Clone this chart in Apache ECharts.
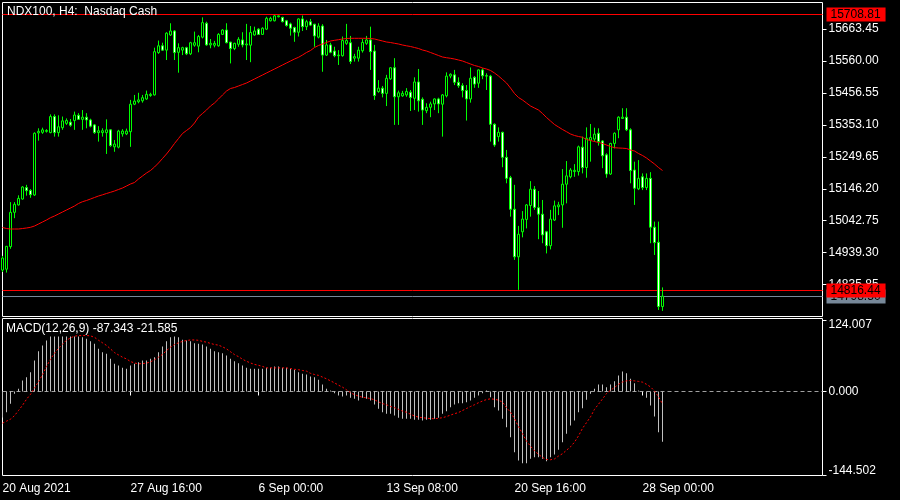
<!DOCTYPE html>
<html><head><meta charset="utf-8">
<script src="https://cdn.jsdelivr.net/npm/echarts@6.0.0/dist/echarts.min.js"></script>
<style>html,body{margin:0;padding:0;background:#000;}#c{width:900px;height:500px;}</style>
</head><body><div id="c"></div>
<script>
const timeLabels = ['20 Aug 2021','27 Aug 16:00','6 Sep 00:00','13 Sep 08:00','20 Sep 16:00','28 Sep 00:00'];
const labelStep = 32;
const priceTicks = [15663.45, 15560.00, 15456.55, 15353.10, 15249.65, 15146.20, 15042.75, 14939.30, 14835.85];
const macdTicks = [124.007, 0, -144.502];
const highLine = 15708.81;
const askPrice = 14816.44;
const bidPrice = 14798.50;
const emptySlots = 40;

const openPrices = [14883,14886,14959,15070,15094,15113,15150,15141,15126,15327,
15329,15332,15328,15380,15328,15344,15358,15362,15367,15384,
15371,15378,15369,15353,15328,15328,15328,15337,15282,15281,
15324,15324,15331,15420,15428,15431,15437,15448,15450,15587,
15609,15595,15644,15657,15588,15595,15603,15583,15611,15608,
15637,15682,15612,15611,15609,15646,15660,15621,15600,15614,
15628,15612,15611,15644,15663,15646,15663,15690,15690,15703,
15701,15690,15680,15668,15653,15696,15671,15687,15679,15637,
15673,15579,15612,15592,15577,15577,15617,15619,15569,15569,
15593,15617,15628,15592,15461,15472,15455,15502,15538,15444,
15447,15450,15459,15439,15492,15436,15399,15410,15421,15437,
15420,15447,15511,15515,15491,15480,15464,15437,15507,15488,
15531,15512,15511,15355,15315,15329,15248,15182,15080,14926,
15007,15047,15092,15145,15085,15064,15007,14962,15045,15088,
15094,15161,15185,15202,15202,15281,15215,15304,15307,15326,
15301,15256,15194,15293,15337,15374,15378,15337,15207,15146,
15185,15150,15180,15022,14973,14765];
const highPrices = [14929,14961,15103,15103,15125,15155,15159,15145,15329,15342,
15344,15339,15387,15387,15384,15380,15374,15372,15396,15391,
15401,15391,15373,15356,15349,15342,15371,15339,15304,15337,
15339,15341,15434,15450,15457,15450,15464,15457,15603,15626,
15619,15653,15682,15660,15617,15606,15606,15622,15655,15644,
15701,15687,15631,15625,15650,15663,15682,15622,15619,15637,
15653,15680,15673,15671,15666,15669,15703,15703,15708.81,15707,
15703,15693,15684,15671,15698,15707,15693,15696,15680,15682,
15679,15628,15619,15606,15595,15639,15680,15641,15583,15606,
15631,15641,15671,15612,15498,15479,15515,15540,15569,15464,
15463,15472,15466,15507,15534,15442,15423,15428,15439,15441,
15453,15523,15520,15531,15507,15488,15482,15539,15511,15533,
15536,15520,15515,15358,15345,15331,15272,15188,15159,15026,
15074,15097,15171,15155,15139,15110,15010,15078,15108,15104,
15210,15236,15213,15226,15286,15315,15345,15356,15344,15342,
15304,15261,15295,15329,15381,15407,15407,15342,15234,15239,
15196,15196,15200,15040,15040,14827];
const lowPrices = [14877,14875,14952,15051,15092,15111,15124,15117,15123,15302,
15324,15328,15326,15315,15315,15337,15353,15347,15337,15369,
15337,15342,15345,15324,15299,15315,15259,15282,15266,15277,
15315,15320,15282,15417,15423,15425,15434,15444,15448,15583,
15593,15563,15641,15563,15522,15579,15579,15579,15606,15588,
15633,15609,15601,15604,15606,15644,15617,15552,15595,15606,
15604,15563,15556,15642,15644,15644,15660,15688,15688,15701,
15685,15671,15642,15622,15639,15657,15660,15673,15606,15633,
15525,15576,15585,15572,15547,15574,15612,15550,15558,15558,
15587,15612,15531,15434,15457,15442,15414,15499,15353,15353,
15444,15444,15398,15401,15396,15353,15391,15378,15401,15391,
15315,15442,15504,15482,15473,15442,15367,15425,15473,15473,
15501,15466,15299,15282,15299,15216,15164,15056,14916,14819,
14989,15018,15056,15078,14983,14970,14937,14950,15042,15061,
15020,15099,15180,15185,15189,15196,15182,15234,15299,15286,
15213,15182,15191,15277,15310,15372,15333,15164,15094,15142,
15142,15142,14970,14932,14754,14751];
const closePrices = [14922,14960,15070,15096,15115,15152,15140,15127,15326,15332,
15337,15335,15380,15328,15347,15366,15367,15352,15385,15371,
15378,15369,15349,15328,15334,15334,15337,15286,15291,15333,
15333,15333,15420,15430,15434,15441,15452,15452,15590,15609,
15595,15650,15657,15587,15603,15603,15583,15619,15619,15639,
15684,15612,15617,15617,15646,15660,15619,15600,15617,15630,
15612,15615,15652,15657,15646,15666,15698,15698,15706,15706,
15687,15675,15666,15653,15696,15671,15687,15676,15641,15673,
15579,15612,15588,15577,15579,15626,15626,15558,15574,15595,
15620,15628,15590,15448,15472,15455,15504,15538,15444,15457,
15455,15461,15442,15492,15431,15401,15410,15421,15437,15421,
15450,15511,15517,15491,15480,15464,15437,15504,15485,15531,
15512,15511,15355,15288,15329,15248,15180,15080,14926,14999,
15048,15094,15145,15086,15064,14997,14962,15048,15091,15094,
15161,15188,15207,15206,15282,15215,15310,15312,15323,15299,
15253,15194,15293,15326,15378,15378,15337,15205,15148,15180,
15150,15180,15022,14972,14765,14798.5];
const maValues = [15020.9,15017.6,15016.0,15016.0,15016.0,15017.6,15019.3,15021.5,15025.7,15032.2,
15038.7,15045.2,15052.6,15058.1,15064.6,15071.1,15077.5,15084.0,15090.5,15098.6,
15104.4,15108.3,15113.1,15118.0,15122.8,15126.7,15130.9,15134.8,15139.0,15143.9,
15148.7,15155.2,15161.7,15166.5,15177.9,15187.6,15197.3,15205.4,15216.7,15229.7,
15244.2,15258.8,15275.0,15292.8,15309.0,15325.2,15334.9,15344.6,15359.1,15378.6,
15389.9,15401.2,15414.2,15423.9,15436.8,15449.8,15462.7,15470.8,15474.1,15478.9,
15483.8,15488.6,15495.1,15501.6,15508.1,15514.5,15521.0,15527.5,15533.9,15540.4,
15546.9,15553.4,15559.8,15566.3,15571.8,15579.3,15587.4,15593.8,15603.5,15610.0,
15614.9,15619.7,15624.6,15626.8,15628.8,15631.1,15632.7,15633.3,15633.3,15633.3,
15633.3,15633.3,15632.7,15631.1,15627.8,15624.6,15621.3,15619.7,15617.1,15614.9,
15611.6,15609.0,15606.8,15603.5,15600.3,15595.4,15592.2,15587.4,15582.5,15577.6,
15572.8,15570.5,15568.6,15566.3,15563.1,15559.8,15555.0,15550.1,15545.3,15542.0,
15537.2,15533.9,15529.1,15521.0,15511.3,15500.0,15488.6,15472.4,15454.6,15441.7,
15433.6,15423.9,15414.2,15407.7,15401.2,15389.9,15377.0,15365.6,15354.3,15346.2,
15338.1,15331.0,15323.5,15318.7,15315.4,15312.9,15305.7,15302.5,15299.3,15296.0,
15292.8,15287.9,15283.1,15279.2,15278.2,15277.6,15276.6,15271.7,15268.5,15260.4,
15253.9,15245.9,15236.1,15226.4,15215.1,15205.4];
const macdMain = [-45,-35.9,-21.4,-4,4.6,19.1,24.9,33.6,53.8,70,
79.8,88.5,95.5,95.5,95.5,95.5,95.5,95.5,95.5,95.5,
94.3,91.4,87.4,82.7,74.1,68.3,65.4,56.7,48,45.1,
41.1,39.3,45.1,48,50.9,53.8,53.8,56.7,59.6,68.3,
78.1,87.4,94.3,95.5,94.3,89.7,88.5,87.4,83.9,82.7,
81.6,78.1,74.1,70,68.3,66.5,62.5,56.7,52.7,49.2,
45.1,41.1,39.3,39.3,39.3,39.3,41.1,41.1,43.4,43.4,
41.1,41.1,39.3,37.6,33.6,30.7,29.5,26,24.9,20.3,
12.2,4.6,1.7,-2.9,-6.9,-8.7,-6.9,-11,-12.7,-15.6,
-11,-12.7,-15.6,-22.6,-30.1,-35.9,-38.8,-38.8,-41.7,-45.7,
-47.4,-47.4,-47.4,-49.2,-49.2,-50.3,-49.2,-49.2,-47.4,-45.7,
-38.8,-34.1,-27.2,-22.6,-20.3,-20.3,-18.5,-15.6,-11,-6.9,
-2.9,1.7,-9.8,-27.2,-33,-47.4,-61.9,-79.3,-105.3,-119.8,
-124.4,-124.4,-116.9,-114,-114,-116.9,-120.9,-114,-109.4,-101.3,
-87.9,-73.5,-59,-50.3,-35.9,-28.9,-14.5,-4,4.6,12.2,
12.2,7.5,12.2,17.9,27.8,34.7,31.8,22,14.5,1.7,
-1.2,-11,-24.3,-43.4,-70.6,-87.343];
const macdSignal = [-55,-51.5,-48,-42,-33,-24,-13.5,-5,6,17,
29,43.5,56,66.5,75,82,89,93,96,97,
97.2,97.2,96.5,94,89,84.5,80,74,67.5,63.5,
59.5,56.5,52,49.5,48,48.5,49.2,51.5,55,59.5,
64.5,71,77,81.5,84.5,87,88.5,89.5,89.5,88.8,
87,85.6,83.5,81.5,80.5,77.5,74,69,64,60.5,
56,52.5,49.5,47,45.5,43.5,41,41,41,41,
41,41,39.8,38.5,37.8,36.5,35.3,31.5,29.5,28,
25,22,18.5,15,11,7.5,3,-2,-5.5,-8,
-10,-11,-12.3,-14.5,-18,-21,-23,-26,-28,-31,
-34,-36,-39.5,-42.5,-44.5,-45.5,-46.3,-47,-47.2,-46.5,
-45.5,-43.5,-41,-38.5,-36.5,-33,-29.5,-26,-23,-19.5,
-16.5,-14,-12.7,-13.5,-15,-18.5,-28,-36,-47,-61,
-73,-86,-95,-103,-109,-114.5,-118,-118.5,-117,-112,
-108,-102,-96,-88,-77,-64,-54,-44,-31,-22,
-13,-3.5,2,7,12.5,16.5,18.5,19.1,18.5,17.5,
16.2,12.5,8,1,-9,-21.585];

const N = closePrices.length + emptySlots;
const categories = Array.from({length: N}, (_, i) => String(i));
const candleData = openPrices.map((o, i) => [o, closePrices[i], lowPrices[i], highPrices[i]]);
const FONT = 'Liberation Sans';
const showTime = (i) => i % labelStep === 0 && (i / labelStep) < timeLabels.length;
const macdTickLabel = (v) => {
  const s = Number(v).toFixed(3);
  if (v === macdTicks[0]) return '{top|' + s + '}';
  if (v === macdTicks[2]) return '{bot|' + s + '}';
  return s;
};

const chart = echarts.init(document.getElementById('c'), null, {renderer: 'canvas'});
chart.setOption({
  backgroundColor: '#000',
  animation: false,
  textStyle: {fontFamily: FONT},
  grid: [
    {left: 2.5, top: 2.5, width: 820, height: 314, show: true, borderColor: '#fff', borderWidth: 1, backgroundColor: 'transparent', containLabel: false, outerBoundsMode: 'none'},
    {left: 2.5, top: 318.5, width: 820, height: 157, show: true, borderColor: '#fff', borderWidth: 1, backgroundColor: 'transparent', containLabel: false, outerBoundsMode: 'none'}
  ],
  xAxis: [
    {type: 'category', gridIndex: 0, data: categories, boundaryGap: false,
     axisLine: {show: false}, axisTick: {show: false}, axisLabel: {show: false}, splitLine: {show: false}},
    {type: 'category', gridIndex: 1, data: categories, boundaryGap: false,
     axisLine: {show: false}, splitLine: {show: false},
     axisTick: {show: true, interval: showTime, length: 4, lineStyle: {color: '#fff', width: 1}},
     axisLabel: {show: true, interval: showTime, align: 'left', color: '#fff', fontSize: 12, fontFamily: FONT, margin: 7,
       formatter: (v, i) => timeLabels[i / labelStep] || ''}}
  ],
  yAxis: [
    {type: 'value', gridIndex: 0, position: 'right', min: 14732.8, max: 15749.2,
     axisLine: {show: false}, splitLine: {show: false},
     axisTick: {show: true, customValues: priceTicks, length: 4, lineStyle: {color: '#fff'}},
     axisLabel: {show: true, customValues: priceTicks, formatter: v => Number(v).toFixed(2), color: '#fff', fontSize: 12, fontFamily: FONT, margin: 6}},
    {type: 'value', gridIndex: 1, position: 'right', min: -145.8, max: 126.7,
     axisLine: {show: false}, splitLine: {show: false},
     axisTick: {show: true, customValues: macdTicks, length: 4, lineStyle: {color: '#fff'}},
     axisLabel: {show: true, customValues: macdTicks, formatter: macdTickLabel, color: '#fff', fontSize: 12, fontFamily: FONT, margin: 6,
       rich: {
         top: {color: '#fff', fontSize: 12, fontFamily: FONT, padding: [10, 0, 0, 0]},
         bot: {color: '#fff', fontSize: 12, fontFamily: FONT, padding: [0, 0, 8, 0]}
       }}}
  ],
  series: [
    {type: 'candlestick', xAxisIndex: 0, yAxisIndex: 0, data: candleData, barWidth: 2, z: 2,
     itemStyle: {color: '#000000', color0: '#ffffff', borderColor: '#00ff00', borderColor0: '#00ff00', borderColorDoji: '#00ff00', borderWidth: 1}},
    {type: 'line', xAxisIndex: 0, yAxisIndex: 0, data: maValues, showSymbol: false, z: 3, silent: true,
     lineStyle: {color: '#ff0000', width: 1}},
    {type: 'bar', xAxisIndex: 1, yAxisIndex: 1, data: macdMain, barWidth: 1, z: 2, silent: true,
     itemStyle: {color: '#c0c0c0'},
     markLine: {silent: true, symbol: ['none', 'none'], z: 1, label: {show: false},
       data: [{yAxis: 0}], lineStyle: {color: '#a0a0a0', width: 1, type: [4, 3]}}},
    {type: 'line', xAxisIndex: 1, yAxisIndex: 1, data: macdSignal, showSymbol: false, z: 3, silent: true,
     lineStyle: {color: '#ff0000', width: 1, type: [2, 2]}}
  ]
});

// price level lines (high, bid, ask) placed through the y scale, snapped to crisp pixels
const levels = [
  {price: highLine, color: '#ff0000'},
  {price: bidPrice, color: '#778899'},
  {price: askPrice, color: '#ff0000'}
];
const x0 = chart.convertToPixel({xAxisIndex: 0}, '0');
const x1 = chart.convertToPixel({xAxisIndex: 0}, String(N - 1));
const graphics = [];
levels.forEach((lv, k) => {
  const y = Math.floor(chart.convertToPixel({yAxisIndex: 0}, lv.price)) + 0.5;
  graphics.push({type: 'line', z: 1, silent: true,
    shape: {x1: x0, y1: y, x2: x1, y2: y}, style: {stroke: lv.color, lineWidth: 1}});
});
levels.forEach((lv, k) => {
  const y = Math.floor(chart.convertToPixel({yAxisIndex: 0}, lv.price)) + 0.5;
  graphics.push({type: 'text', z: 50 + k, silent: true, x: x1 + 4, y: y,
    style: {text: lv.price.toFixed(2), fill: '#000', backgroundColor: lv.color, padding: [1, 5, 1, 4],
      font: '12px "Liberation Sans"', lineHeight: 12, verticalAlign: 'middle', align: 'left'}});
});
graphics.push({type: 'text', left: 7, top: 6, z: 100, silent: true,
  style: {text: 'NDX100, H4:  Nasdaq Cash', fill: '#fff', font: '12px "Liberation Sans"'}});
graphics.push({type: 'text', left: 6, top: 323, z: 100, silent: true,
  style: {text: 'MACD(12,26,9) ' + macdMain[macdMain.length - 1].toFixed(3) + ' ' + macdSignal[macdSignal.length - 1].toFixed(3),
    fill: '#fff', font: '12px "Liberation Sans"'}});
chart.setOption({graphic: graphics});
</script>
</body></html>
